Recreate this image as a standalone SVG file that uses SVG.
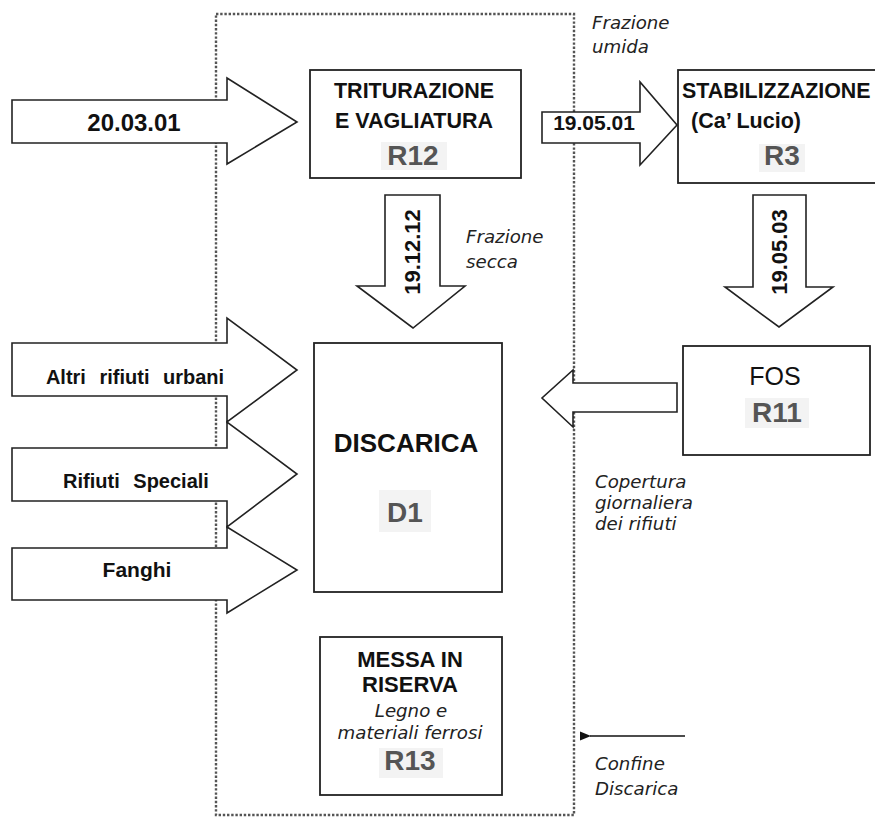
<svg xmlns="http://www.w3.org/2000/svg" width="875" height="817" viewBox="0 0 875 817">
  <defs>
    <style>
      .box { fill: #fff; stroke: #222; stroke-width: 1.8; }
      .flow { fill: #fff; stroke: #222; stroke-width: 1.6; stroke-linejoin: miter; }
      .border { fill: none; stroke: #555; stroke-width: 2.4; stroke-dasharray: 2.4 1.8; }
      .b { font-family: "Liberation Sans", Arial, sans-serif; font-weight: bold; fill: #111; }
      .n { font-family: "Liberation Sans", Arial, sans-serif; fill: #111; }
      .code { font-family: "Liberation Sans", Arial, sans-serif; font-weight: bold; fill: #555; font-size: 28px; text-anchor: middle; }
      .tag { fill: #f3f3f3; }
      .note { font-family: "DejaVu Sans", Verdana, sans-serif; font-style: italic; font-size: 18.2px; fill: #222; }
      .c { text-anchor: middle; }
    </style>
    <marker id="head" viewBox="0 0 10 10" refX="1" refY="5" markerWidth="7" markerHeight="7" orient="auto-start-reverse">
      <path d="M0,5 L10,1 L10,9 Z" fill="#111"/>
    </marker>
  </defs>

  <rect width="875" height="817" fill="#fff"/>

  <!-- landfill boundary -->
  <rect id="confine" class="border" x="216" y="14" width="358" height="801"/>

  <g id="triturazione">
    <rect class="box" x="310" y="70" width="211" height="108"/>
    <text class="b c" x="414" y="98" font-size="21.5">TRITURAZIONE</text>
    <text class="b c" x="414" y="128" font-size="21.5">E VAGLIATURA</text>
    <rect class="tag" x="381" y="142" width="66" height="28"/>
    <text class="code" x="413" y="165">R12</text>
  </g>

  <g id="stabilizzazione">
    <rect class="box" x="678" y="70" width="210" height="113"/>
    <text class="b" x="682" y="98" font-size="21.4">STABILIZZAZIONE</text>
    <text class="b c" x="746" y="128" font-size="21.5">(Ca’ Lucio)</text>
    <rect class="tag" x="759" y="144" width="46" height="28"/>
    <text class="code" x="782" y="165">R3</text>
  </g>

  <g id="discarica">
    <rect class="box" x="314" y="343" width="188" height="249"/>
    <text class="b c" x="406" y="452" font-size="26">DISCARICA</text>
    <rect class="tag" x="379" y="490" width="52" height="42"/>
    <text class="code" x="405" y="522" font-size="27">D1</text>
  </g>

  <g id="fos">
    <rect class="box" x="683" y="346" width="187" height="109"/>
    <text class="n c" x="775" y="385" font-size="25">FOS</text>
    <rect class="tag" x="745" y="398" width="64" height="30"/>
    <text class="code" x="777" y="422" font-size="27">R11</text>
  </g>

  <g id="messa-in-riserva">
    <rect class="box" x="320" y="637" width="182" height="158"/>
    <text class="b c" x="410" y="667" font-size="22">MESSA IN</text>
    <text class="b c" x="410" y="692" font-size="22">RISERVA</text>
    <text class="note c" x="411" y="717">Legno e</text>
    <text class="note c" x="410" y="739">materiali ferrosi</text>
    <rect class="tag" x="379" y="748" width="64" height="30"/>
    <text class="code" x="410" y="770">R13</text>
  </g>

  <g id="connectors">
    <!-- 20.03.01 into shredding and screening -->
    <polygon class="flow" points="12,100 227,100 227,78 297,122 227,164 227,143 12,143"/>
    <text class="b c" x="134" y="131" font-size="24">20.03.01</text>

    <!-- wet fraction to stabilisation -->
    <polygon class="flow" points="542,112 640,112 640,82 677,125 640,165 640,143 542,143"/>
    <text class="b c" x="594" y="130" font-size="21">19.05.01</text>

    <!-- dry fraction to landfill -->
    <polygon class="flow" points="385,195 440,195 440,286 465,286 413,328 357,286 385,286"/>
    <text class="b c" x="420" y="252" font-size="22" transform="rotate(-90 420 252)">19.12.12</text>

    <!-- stabilised output to FOS -->
    <polygon class="flow" points="753,195 806,195 806,287 833,287 779,327 725,287 753,287"/>
    <text class="b c" x="787" y="252" font-size="22" transform="rotate(-90 787 252)">19.05.03</text>

    <!-- FOS back to landfill as daily cover -->
    <polygon class="flow" points="677,383 573,383 573,370 542,398 573,427 573,412 677,412"/>

    <!-- other incoming waste -->
    <polygon class="flow" points="12,343 227,343 227,318 297,370 227,422 227,396 12,396"/>
    <text class="b c" x="135" y="384" font-size="20" word-spacing="8">Altri rifiuti urbani</text>

    <polygon class="flow" points="12,448 227,448 227,422 297,474 227,527 227,501 12,501"/>
    <text class="b c" x="136" y="488" font-size="20" word-spacing="8">Rifiuti Speciali</text>

    <polygon class="flow" points="12,548 227,548 227,527 297,570 227,613 227,600 12,600"/>
    <text class="b c" x="137" y="577" font-size="21">Fanghi</text>

    <!-- boundary pointer -->
    <line x1="685" y1="736" x2="590" y2="736" stroke="#111" stroke-width="1.6" marker-end="url(#head)"/>
  </g>

  <g id="notes">
    <text class="note" x="592" y="29">Frazione</text>
    <text class="note" x="592" y="53">umida</text>
    <text class="note" x="466" y="243">Frazione</text>
    <text class="note" x="466" y="268">secca</text>
    <text class="note" x="595" y="488">Copertura</text>
    <text class="note" x="595" y="509">giornaliera</text>
    <text class="note" x="595" y="530">dei rifiuti</text>
    <text class="note" x="595" y="770">Confine</text>
    <text class="note" x="595" y="795">Discarica</text>
  </g>
</svg>
